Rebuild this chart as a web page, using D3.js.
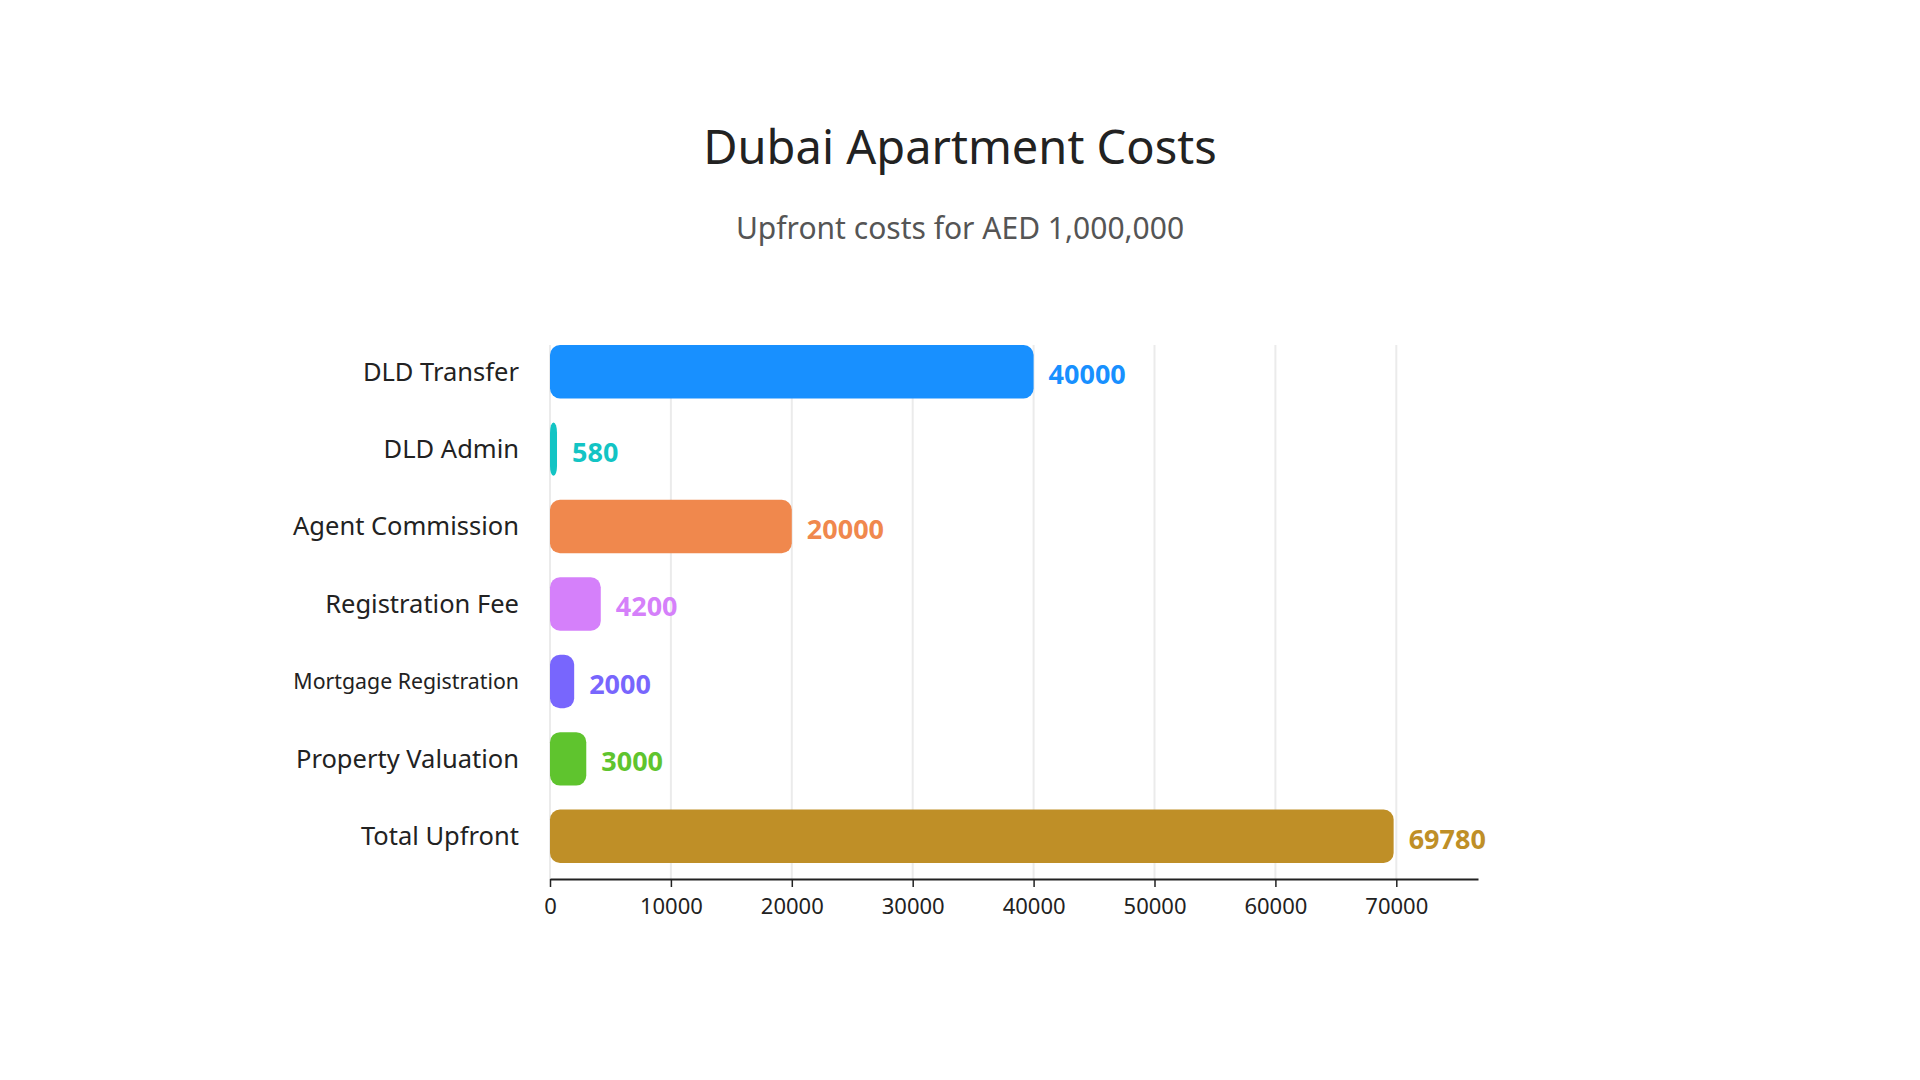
<!DOCTYPE html>
<html>
<head>
<meta charset="utf-8">
<script src="https://cdn.jsdelivr.net/npm/d3@7"></script>
<style>
  body { margin: 0; background: #fff; }
  svg { display: block; font-family: "Noto Sans", sans-serif; }
</style>
</head>
<body>
<script>
const categories = ["DLD Transfer", "DLD Admin", "Agent Commission", "Registration Fee",
    "Mortgage Registration", "Property Valuation", "Total Upfront"];
const costs = [40000, 580, 20000, 4200, 2000, 3000, 69780];
const barColors = ["#1890ff", "#13c4c4", "#f0884d", "#d580fa", "#7866fd", "#5fc42e", "#bf8f27"];
const xTicks = [0, 10000, 20000, 30000, 40000, 50000, 60000, 70000];

const chartWidth = 1920, chartHeight = 1080;
const plotLeft = 550, plotRight = 1478, plotTop = 345, barBottom = 863, axisY = 879;

const svg = d3.select("body").append("svg")
    .attr("width", chartWidth)
    .attr("height", chartHeight);

svg.append("text")
    .attr("x", 960).attr("y", 164)
    .attr("text-anchor", "middle")
    .attr("font-size", "47px")
    .attr("fill", "#222")
    .text("Dubai Apartment Costs");

svg.append("text")
    .attr("x", 960).attr("y", 239)
    .attr("text-anchor", "middle")
    .attr("font-size", "30px")
    .attr("fill", "#555")
    .text("Upfront costs for AED 1,000,000");

const x = d3.scaleLinear()
    .domain([0, d3.max(costs) * 1.1])
    .range([plotLeft, plotRight]);

const y = d3.scaleBand()
    .domain(categories)
    .range([plotTop, barBottom])
    .paddingInner(0.31)
    .paddingOuter(0);

// grid lines
svg.append("g")
    .selectAll("line")
    .data(xTicks)
    .join("line")
    .attr("x1", d => x(d)).attr("x2", d => x(d))
    .attr("y1", plotTop).attr("y2", axisY)
    .attr("stroke", "#ebebeb")
    .attr("stroke-width", 2);

// bars
svg.append("g")
    .selectAll("rect")
    .data(categories)
    .join("rect")
    .attr("x", x(0))
    .attr("y", d => y(d))
    .attr("width", (d, i) => x(costs[i]) - x(0))
    .attr("height", y.bandwidth())
    .attr("rx", 10)
    .attr("fill", (d, i) => barColors[i]);

// value labels
svg.append("g")
    .selectAll("text")
    .data(categories)
    .join("text")
    .attr("x", (d, i) => x(costs[i]) + 15)
    .attr("y", d => y(d) + y.bandwidth() / 2 + 5)
    .attr("dominant-baseline", "middle")
    .attr("font-size", "27px")
    .attr("font-weight", "bold")
    .attr("fill", (d, i) => barColors[i])
    .text((d, i) => costs[i]);

// category labels, shrink long ones to fit
const labels = svg.append("g")
    .selectAll("text")
    .data(categories)
    .join("text")
    .attr("x", plotLeft - 31)
    .attr("y", d => y(d) + y.bandwidth() / 2 + 2)
    .attr("text-anchor", "end")
    .attr("dominant-baseline", "middle")
    .attr("font-size", "25.5px")
    .attr("fill", "#222")
    .text(d => d);

labels.each(function() {
    const w = this.getComputedTextLength();
    if (w > 240) {
        d3.select(this).attr("font-size", (25.5 * 226 / w).toFixed(1) + "px");
    }
});

// x axis
const axis = svg.append("g")
    .attr("transform", `translate(0,${axisY})`)
    .call(d3.axisBottom(x).tickValues(xTicks).tickFormat(d3.format("d")).tickSize(8).tickSizeOuter(0));

axis.select(".domain").attr("stroke", "#222").attr("stroke-width", 2);
axis.selectAll(".tick line").attr("stroke", "#222").attr("stroke-width", 1.5);
axis.selectAll(".tick text")
    .attr("font-size", "22px")
    .attr("font-family", "Noto Sans, sans-serif")
    .attr("fill", "#222")
    .attr("dy", "1.1em");
</script>
</body>
</html>
